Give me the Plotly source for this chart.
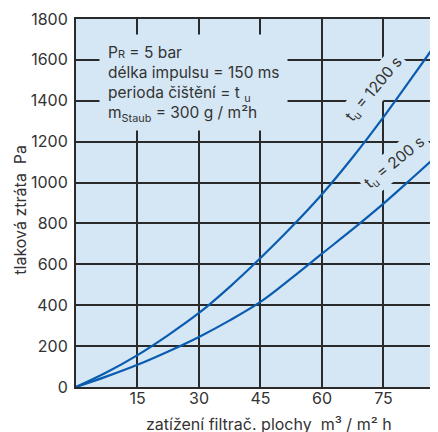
import plotly.graph_objects as go

# data
load = [0, 7.5, 15, 22.5, 30, 37.5, 45, 52.5, 60, 67.5, 75, 82.5, 90]          # m3/m2h
dp_1200 = [0, 72, 156, 254, 362, 490, 631, 781, 943, 1124, 1320, 1529, 1740]  # Pa, tu = 1200 s
dp_200 = [0, 52, 109, 174, 245, 326, 416, 531, 652, 772, 897, 1031, 1167]     # Pa, tu = 200 s
x_ticks = [15, 30, 45, 60, 75]
y_ticks = [0, 200, 400, 600, 800, 1000, 1200, 1400, 1600, 1800]

X_MAX = 88.3
BG = "#d5e7f4"
GRID = "#2a2a2a"
BLUE = "#0a5cb0"
TXT = "#333333"
FONT = "Inter"
PW = 362.0   # plot width in px
PH = 368.0   # plot height in px

fig = go.Figure()
for ys in (dp_1200, dp_200):
    fig.add_trace(go.Scatter(x=load, y=ys, mode="lines",
                             line=dict(color=BLUE, width=2.2, shape="spline", smoothing=1.0),
                             hoverinfo="skip", showlegend=False))

ann = []
ann.append(dict(xref="paper", yref="paper", x=(99 - 76) / PW, y=(387.3 - 34) / PH, xanchor="left", yanchor="top",
                text=("P<span style='font-size:11px'>R</span> = 5 bar<br>délka impulsu = 150 ms<br>"
                      "perioda čištění = t <sub>u</sub><br>m<sub>Staub</sub> = 300 g / m²h"),
                align="left", valign="top", width=171, height=79, borderpad=8, bgcolor=BG,
                showarrow=False, font=dict(size=15.5, color=TXT, family=FONT)))
ann.append(dict(xref="x", yref="y", x=72.7, y=1456, text="t<sub>u</sub> = 1200 s", textangle=-50,
                xanchor="center", yanchor="middle",
                showarrow=False, bgcolor=BG, borderpad=3, font=dict(size=15.5, color=TXT, family=FONT)))
ann.append(dict(xref="x", yref="y", x=77.9, y=1096, text="t<sub>u</sub> = 200 s", textangle=-39,
                xanchor="center", yanchor="middle",
                showarrow=False, bgcolor=BG, borderpad=3, font=dict(size=15.5, color=TXT, family=FONT)))
ann.append(dict(xref="paper", yref="paper", x=90 / X_MAX, y=0, xanchor="center", yanchor="middle",
                yshift=-11, text="90", showarrow=False, font=dict(size=16, color=TXT, family=FONT)))
ann.append(dict(xref="paper", yref="paper", x=(20 - 76) / PW, y=(387.3 - 210) / PH, textangle=-90,
                xanchor="center", yanchor="middle",
                text="tlaková ztráta  Pa", showarrow=False, font=dict(size=16, color=TXT, family=FONT)))
ann.append(dict(xref="paper", yref="paper", x=(269 - 76) / PW, y=(387.3 - 424) / PH,
                xanchor="center", yanchor="middle",
                text="zatížení filtrač. plochy  m³ / m² h", showarrow=False,
                font=dict(size=16, color=TXT, family=FONT)))

# the page body has an 8px margin, so the figure is 8px smaller than the window
fig.update_layout(
    width=430, height=424, margin=dict(l=68, r=0, t=11, b=45, pad=0),
    paper_bgcolor="white", plot_bgcolor=BG,
    font=dict(family=FONT, size=16, color=TXT),
    annotations=ann,
    xaxis=dict(range=[0, X_MAX], tickvals=x_ticks, showgrid=True, gridcolor=GRID, gridwidth=2,
               zeroline=False, showline=True, linecolor=GRID, linewidth=2, mirror=True,
               ticks="", ticklabelstandoff=-4, tickfont=dict(size=16, color=TXT), fixedrange=True),
    yaxis=dict(range=[0, 1800], tickvals=y_ticks, showgrid=True, gridcolor=GRID, gridwidth=2,
               zeroline=False, showline=True, linecolor=GRID, linewidth=2,
               ticks="", ticklabelstandoff=3, tickfont=dict(size=16, color=TXT), fixedrange=True),
)
fig.write_html("out.html")
